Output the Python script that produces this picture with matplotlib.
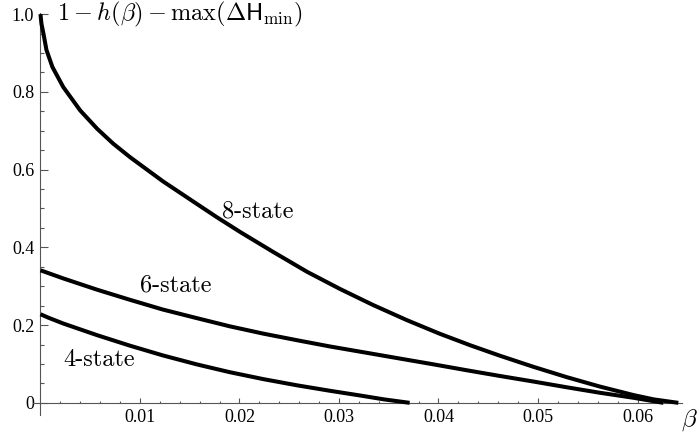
import matplotlib
matplotlib.use("Agg")
import matplotlib.pyplot as plt
from matplotlib.ticker import FixedLocator, FixedFormatter

plt.rcParams["mathtext.fontset"] = "cm"

# curves: error rate beta vs 1 - h(beta) - max(dH_min)
beta_4 = [0.0, 0.0008, 0.0023, 0.0057, 0.0090, 0.0123, 0.0157, 0.0190,
          0.0224, 0.0258, 0.0291, 0.0321, 0.0345, 0.0371]
rate_4 = [0.228, 0.219, 0.204, 0.174, 0.147, 0.122, 0.099, 0.079,
          0.061, 0.045, 0.031, 0.019, 0.009, 0.0]

beta_6 = [0.0, 0.0023, 0.0057, 0.0090, 0.0123, 0.0157, 0.0190, 0.0224,
          0.0258, 0.0291, 0.0334, 0.0361, 0.0395, 0.0428, 0.0462, 0.0495,
          0.0529, 0.0562, 0.0596, 0.0626]
rate_6 = [0.341, 0.320, 0.291, 0.265, 0.240, 0.218, 0.197, 0.178,
          0.161, 0.145, 0.126, 0.114, 0.099, 0.084, 0.069, 0.055,
          0.040, 0.026, 0.013, 0.0]

beta_8 = [0.0, 0.0001, 0.0003, 0.0006, 0.0012, 0.0023, 0.0040, 0.0057,
          0.0073, 0.0090, 0.0123, 0.0157, 0.0177, 0.0201, 0.0234, 0.0268,
          0.0301, 0.0334, 0.0368, 0.0401, 0.0432, 0.0462, 0.0495, 0.0529,
          0.0562, 0.0596, 0.0616, 0.0641]
rate_8 = [1.0, 0.975, 0.950, 0.908, 0.864, 0.812, 0.752, 0.705,
          0.667, 0.632, 0.570, 0.512, 0.478, 0.439, 0.388, 0.337,
          0.293, 0.252, 0.213, 0.178, 0.148, 0.121, 0.093, 0.066,
          0.042, 0.020, 0.009, 0.0]

x_ticks = [0.01, 0.02, 0.03, 0.04, 0.05, 0.06]
x_labels = ["0.01", "0.02", "0.03", "0.04", "0.05", "0.06"]
y_ticks = [0.0, 0.2, 0.4, 0.6, 0.8, 1.0]
y_labels = ["0", "0.2", "0.4", "0.6", "0.8", "1.0"]

AXIS_COLOR = "#555555"
TICK_FONT = "Liberation Serif"

fig = plt.figure(figsize=(6.99, 4.36), dpi=100)
ax = fig.add_axes([0.0465, 0.0493, 0.9296, 0.921])

for b, r in [(beta_4, rate_4), (beta_6, rate_6), (beta_8, rate_8)]:
    ax.plot(b, r, color="black", lw=2.9, solid_capstyle="butt",
            solid_joinstyle="round", clip_on=False, zorder=3)

ax.set_xlim(-0.0008, 0.0645)
ax.set_ylim(-0.03, 1.003)

for side in ("top", "right"):
    ax.spines[side].set_visible(False)
ax.spines["left"].set_position(("data", 0))
ax.spines["bottom"].set_position(("data", 0))
for side in ("left", "bottom"):
    ax.spines[side].set_color(AXIS_COLOR)
    ax.spines[side].set_linewidth(0.8)

ax.xaxis.set_major_locator(FixedLocator(x_ticks))
ax.xaxis.set_major_formatter(FixedFormatter(x_labels))
ax.xaxis.set_minor_locator(FixedLocator([i * 0.002 for i in range(1, 33) if i % 5]))
ax.yaxis.set_major_locator(FixedLocator(y_ticks))
ax.yaxis.set_major_formatter(FixedFormatter(y_labels))
ax.yaxis.set_minor_locator(FixedLocator([i * 0.05 for i in range(1, 20) if i % 4]))

ax.tick_params(axis="x", which="major", direction="in", length=3.4, width=0.8,
               color=AXIS_COLOR, pad=4.5, labelsize=13)
ax.tick_params(axis="x", which="minor", direction="in", length=1.7, width=0.8,
               color=AXIS_COLOR)
ax.tick_params(axis="y", which="major", direction="in", length=5.5, width=0.8,
               color=AXIS_COLOR, pad=4.5, labelsize=13)
ax.tick_params(axis="y", which="minor", direction="in", length=3.1, width=0.8,
               color=AXIS_COLOR)
for lab in ax.get_xticklabels() + ax.get_yticklabels():
    lab.set_fontfamily(TICK_FONT)

ax.text(0.00163, 0.998, r"$1-h(\beta)-\max(\Delta\mathsf{H}_{\min})$",
        fontsize=17.5, ha="left", va="center")
ax.text(0.0652, -0.044, r"$\beta$", fontsize=18, ha="center", va="center")

ax.text(0.02186, 0.493, "8-state", fontfamily="cmr10", fontsize=17.5, ha="center", va="center")
ax.text(0.01357, 0.303, "6-state", fontfamily="cmr10", fontsize=17.5, ha="center", va="center")
ax.text(0.00593, 0.110, "4-state", fontfamily="cmr10", fontsize=17.5, ha="center", va="center")

fig.savefig("out.png", dpi=100)
